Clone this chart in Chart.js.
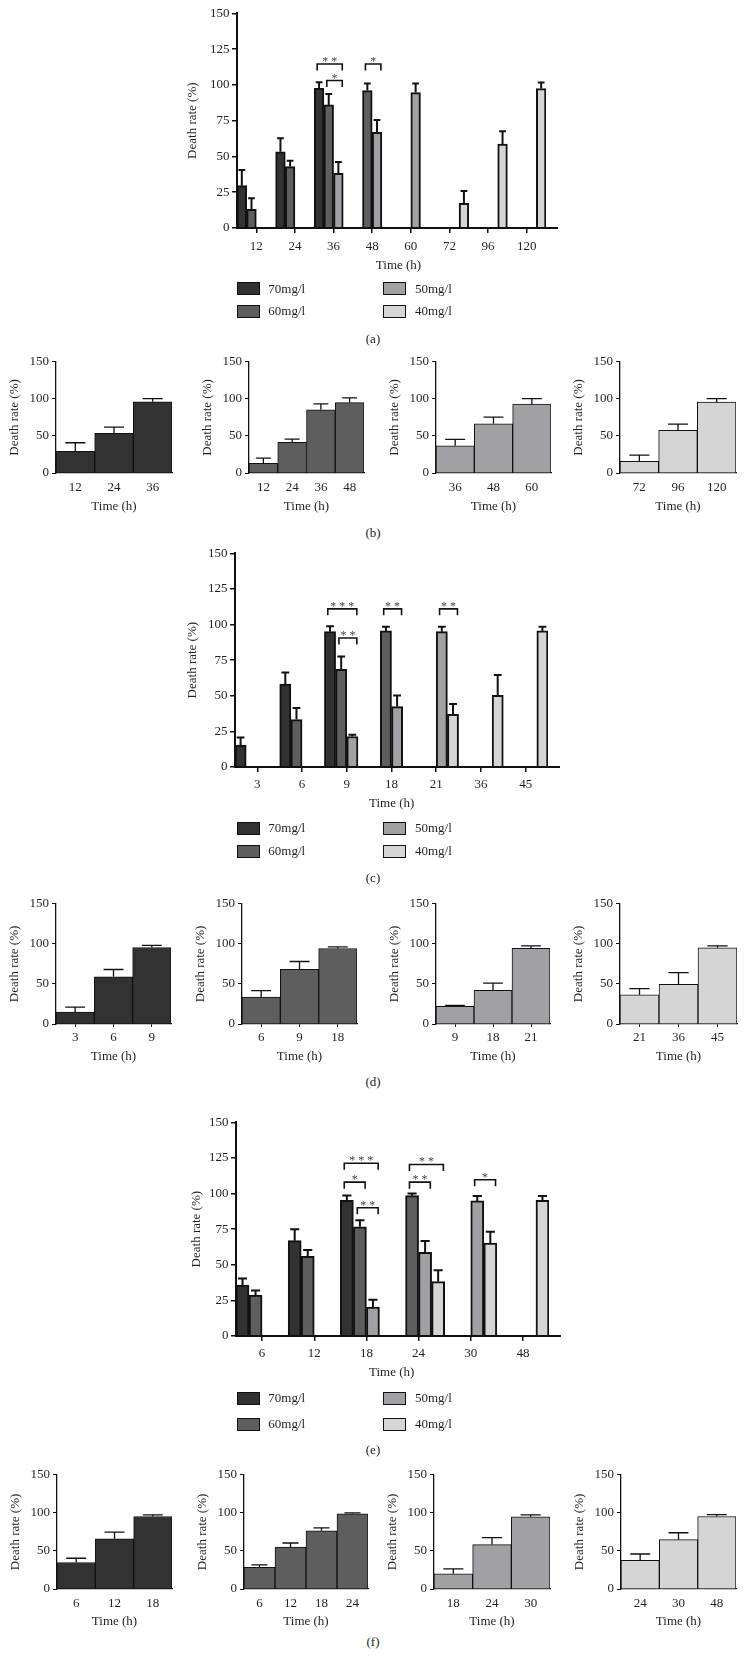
<!DOCTYPE html>
<html><head><meta charset="utf-8">
<script src="https://cdn.jsdelivr.net/npm/chart.js@4.4.0/dist/chart.umd.min.js"></script>
<style>
html,body{margin:0;padding:0;background:#fff;}
body{width:746px;height:1673px;position:relative;overflow:hidden;font-family:"Liberation Serif","Times New Roman",serif;color:#231f20;}
canvas{position:absolute;}
.t{position:absolute;font-size:13px;line-height:16px;white-space:nowrap;transform:translateY(-50%);}
.c{transform:translate(-50%,-50%);}
.box{position:absolute;box-sizing:border-box;border:1.5px solid #111;}
</style></head><body>
<script>
const seriesNames = ['70mg/l', '60mg/l', '50mg/l', '40mg/l'];

// (a)
const aTimes = ['12', '24', '36', '48', '60', '72', '96', '120'];
const a70 = [29.6, 53.3, 97.6, null, null, null, null, null];
const a60 = [13.0, 42.9, 86.0, 96.0, null, null, null, null];
const a50 = [null, null, 38.2, 66.9, 94.6, null, null, null];
const a40 = [null, null, null, null, null, 17.2, 58.7, 97.4];
const a70Err = [10.9, 9.4, 4.2, null, null, null, null, null];
const a60Err = [7.7, 4.1, 7.6, 5.0, null, null, null, null];
const a50Err = [null, null, 7.9, 8.6, 6.4, null, null, null];
const a40Err = [null, null, null, null, null, 8.7, 8.9, 4.2];
const aSig = [
  {cat: 2, from: 0, to: 2, level: 114.6, stars: '* *'},
  {cat: 2, from: 1, to: 2, level: 103.0, stars: '*'},
  {cat: 3, from: 1, to: 2, level: 114.6, stars: '*'}
];

// (b)
const b70Times = ['12', '24', '36'];       const b70 = [29.1, 53.4, 96.0];       const b70Err = [11.7, 8.5, 4.4];
const b60Times = ['12', '24', '36', '48']; const b60 = [13.0, 41.3, 85.2, 95.0]; const b60Err = [7.2, 4.4, 8.1, 6.3];
const b50Times = ['36', '48', '60'];       const b50 = [36.8, 66.4, 92.8];       const b50Err = [8.5, 8.9, 7.6];
const b40Times = ['72', '96', '120'];      const b40 = [15.7, 57.4, 95.5];       const b40Err = [8.5, 8.5, 4.9];

// (c)
const cTimes = ['3', '6', '9', '18', '21', '36', '45'];
const c70 = [15.4, 58.2, 95.0, null, null, null, null];
const c60 = [null, 33.3, 68.5, 95.5, null, null, null];
const c50 = [null, null, 21.4, 42.4, 95.0, null, null];
const c40 = [null, null, null, null, 37.0, 50.3, 95.5];
const c70Err = [5.3, 8.2, 3.8, null, null, null, null];
const c60Err = [null, 8.2, 9.1, 3.0, null, null, null];
const c50Err = [null, null, 1.2, 7.7, 3.5, null, null];
const c40Err = [null, null, null, null, 7.3, 14.2, 3.0];
const cSig = [
  {cat: 2, from: 0, to: 2, level: 111.0, stars: '* * *'},
  {cat: 2, from: 1, to: 2, level: 90.6, stars: '* *'},
  {cat: 3, from: 1, to: 2, level: 111.0, stars: '* *'},
  {cat: 4, from: 2, to: 3, level: 111.0, stars: '* *'}
];

// (d)
const d70Times = ['3', '6', '9'];    const d70 = [14.9, 59.0, 95.5]; const d70Err = [6.1, 9.0, 2.5];
const d60Times = ['6', '9', '18'];   const d60 = [33.5, 68.2, 94.2]; const d60Err = [8.2, 9.8, 2.1];
const d50Times = ['9', '18', '21'];  const d50 = [22.0, 41.9, 94.5]; const d50Err = [1.2, 9.1, 2.9];
const d40Times = ['21', '36', '45']; const d40 = [36.4, 49.6, 95.0]; const d40Err = [7.8, 14.4, 2.5];

// (e)
const eTimes = ['6', '12', '18', '24', '30', '48'];
const e70 = [35.7, 66.9, 95.2, null, null, null];
const e60 = [28.7, 55.9, 76.6, 98.5, null, null];
const e50 = [null, null, 20.3, 58.7, 94.8, null];
const e40 = [null, null, null, 38.2, 65.3, 95.2];
const e70Err = [4.6, 8.1, 3.5, null, null, null];
const e60Err = [3.2, 4.5, 4.6, 1.6, null, null];
const e50Err = [null, null, 5.1, 8.0, 3.5, null];
const e40Err = [null, null, null, 8.0, 7.9, 3.1];
const eSig = [
  {cat: 2, from: 0, to: 2, level: 121.3, stars: '* * *'},
  {cat: 2, from: 0, to: 1, level: 108.0, stars: '*'},
  {cat: 2, from: 1, to: 2, level: 90.0, stars: '* *'},
  {cat: 3, from: 1, to: 3, level: 120.4, stars: '* *'},
  {cat: 3, from: 1, to: 2, level: 108.0, stars: '* *'},
  {cat: 4, from: 2, to: 3, level: 109.7, stars: '*'}
];

// (f)
const f70Times = ['6', '12', '18'];       const f70 = [34.8, 66.0, 95.2];       const f70Err = [5.6, 8.8, 2.2];
const f60Times = ['6', '12', '18', '24']; const f60 = [28.3, 55.2, 76.5, 98.7]; const f60Err = [3.4, 5.2, 3.9, 1.3];
const f50Times = ['18', '24', '30'];      const f50 = [20.0, 58.3, 94.8];       const f50Err = [6.5, 9.1, 2.6];
const f40Times = ['24', '30', '48'];      const f40 = [37.8, 64.8, 95.2];       const f40Err = [8.2, 9.1, 2.6];

// ---------- styling ----------
const COLORS = ['#323232', '#5e5e5e', '#a1a1a5', '#d5d5d5'];
const INK = '#231f20';
Chart.defaults.font.family = '"Liberation Serif","Times New Roman",serif';
Chart.defaults.font.size = 13;
Chart.defaults.color = INK;

Chart.register({
  id: 'errbars',
  afterDatasetsDraw(chart, args, opts) {
    const ctx = chart.ctx, ys = chart.scales.y;
    chart.data.datasets.forEach((ds, i) => {
      if (!ds.errors) return;
      const meta = chart.getDatasetMeta(i);
      meta.data.forEach((el, j) => {
        const v = ds.data[j], e = ds.errors[j];
        if (v == null || e == null) return;
        const x = el.x, y0 = el.y, y1 = ys.getPixelForValue(v + e);
        const half = el.width * (opts.capFrac || 0.3);
        ctx.save();
        ctx.strokeStyle = '#111';
        ctx.lineWidth = opts.lineWidth || 1;
        ctx.beginPath();
        ctx.moveTo(x, y0); ctx.lineTo(x, y1);
        ctx.moveTo(x - half, y1); ctx.lineTo(x + half, y1);
        ctx.stroke();
        ctx.restore();
      });
    });
  }
});

Chart.register({
  id: 'sig',
  afterDatasetsDraw(chart, args, opts) {
    if (!opts.brackets) return;
    const ctx = chart.ctx, ys = chart.scales.y;
    opts.brackets.forEach(b => {
      const e1 = chart.getDatasetMeta(b.from).data[b.cat];
      const e2 = chart.getDatasetMeta(b.to).data[b.cat];
      const x1 = e1.x - e1.width * 0.2, x2 = e2.x + e2.width * 0.4;
      const y = ys.getPixelForValue(b.level);
      ctx.save();
      ctx.strokeStyle = '#111';
      ctx.lineWidth = 1.6;
      ctx.beginPath();
      ctx.moveTo(x1, y + 6.5); ctx.lineTo(x1, y); ctx.lineTo(x2, y); ctx.lineTo(x2, y + 6.5);
      ctx.stroke();
      ctx.fillStyle = '#444';
      ctx.font = '12px "Liberation Serif", serif';
      ctx.textAlign = 'center';
      ctx.textBaseline = 'alphabetic';
      ctx.fillText(b.stars, (x1 + x2) / 2, y + 1);
      ctx.restore();
    });
  }
});

Chart.register({
  id: 'xline',
  afterDatasetsDraw(chart, args, opts) {
    if (!opts.ext) return;
    const a = chart.chartArea, ctx = chart.ctx;
    ctx.save();
    ctx.strokeStyle = '#111';
    ctx.lineWidth = opts.width;
    ctx.beginPath();
    ctx.moveTo(a.left - 1, a.bottom);
    ctx.lineTo(a.right + opts.ext, a.bottom);
    ctx.stroke();
    ctx.restore();
  }
});

function makeCanvas(g) {
  const c = document.createElement('canvas');
  const w = Math.round(g.YW + (g.R - g.L) + g.PR);
  const h = Math.round(g.PT + (g.B - g.T) + g.XH);
  c.width = w; c.height = h;
  c.style.left = (g.L - g.YW) + 'px';
  c.style.top = (g.T - g.PT) + 'px';
  c.style.width = w + 'px'; c.style.height = h + 'px';
  document.body.appendChild(c);
  return c;
}

function addText(txt, x, y, centered) {
  const d = document.createElement('div');
  d.className = 't' + (centered ? ' c' : '');
  d.textContent = txt;
  d.style.left = x + 'px';
  d.style.top = y + 'px';
  document.body.appendChild(d);
}

function addLegend(row1, row2) {
  const cols = [[236.7, 268.3], [383.3, 415]];
  const order = [[0, 2], [1, 3]];
  [row1, row2].forEach((cy, r) => {
    order[r].forEach((si, c) => {
      const b = document.createElement('div');
      b.className = 'box';
      b.style.left = cols[c][0] + 'px';
      b.style.top = (cy - 6.5) + 'px';
      b.style.width = '23px'; b.style.height = '13px';
      b.style.background = COLORS[si];
      document.body.appendChild(b);
      addText(seriesNames[si], cols[c][1], cy, false);
    });
  });
}

function mainChart(g, labels, series, errs, sig, titlePad, tickPad) {
  const canvas = makeCanvas(g);
  new Chart(canvas, {
    type: 'bar',
    data: {
      labels: labels,
      datasets: series.map((d, i) => ({
        label: seriesNames[i], data: d, errors: errs[i],
        backgroundColor: COLORS[i], borderColor: '#111', borderWidth: 2,
        categoryPercentage: 1, barPercentage: 1
      }))
    },
    options: {
      responsive: false, animation: false, devicePixelRatio: 1,
      layout: {padding: {left: 0, top: g.PT, right: g.PR, bottom: 0}},
      plugins: {
        legend: {display: false}, tooltip: {enabled: false},
        errbars: {capFrac: 0.35, lineWidth: 2},
        sig: {brackets: sig},
        xline: {ext: 12, width: 2}
      },
      scales: {
        x: {
          offset: true,
          grid: {offset: false, drawOnChartArea: false, drawTicks: true, tickLength: 5, color: '#111', lineWidth: 1.5},
          border: {display: false},
          ticks: {padding: tickPad, maxRotation: 0, autoSkip: false, color: INK},
          afterFit: s => { s.height = g.XH; }
        },
        y: {
          min: 0, max: 150,
          ticks: {stepSize: 25, padding: 2.5, color: INK},
          grid: {drawOnChartArea: false, tickLength: 5, color: '#111', lineWidth: 1.5},
          border: {display: true, color: '#111', width: 2},
          title: {display: true, text: 'Death rate (%)', color: INK, padding: {top: titlePad, bottom: 0}},
          afterFit: s => { s.width = g.YW; }
        }
      }
    }
  });
}

function smallChart(g, labels, vals, errs, ci, opt) {
  const canvas = makeCanvas(g);
  new Chart(canvas, {
    type: 'bar',
    data: {
      labels: labels,
      datasets: [{
        label: seriesNames[ci], data: vals, errors: errs,
        backgroundColor: COLORS[ci], borderColor: '#111', borderWidth: 1,
        categoryPercentage: 1, barPercentage: 1
      }]
    },
    options: {
      responsive: false, animation: false, devicePixelRatio: 1,
      layout: {padding: {left: 0, top: g.PT, right: g.PR, bottom: 0}},
      plugins: {
        legend: {display: false}, tooltip: {enabled: false},
        errbars: {capFrac: 0.26, lineWidth: 1.3}
      },
      scales: {
        x: {
          offset: true,
          grid: {display: opt.xticks, offset: false, drawOnChartArea: false, drawTicks: opt.xticks, tickLength: 3, color: '#111'},
          border: {display: true, color: '#111', width: 1.3},
          ticks: {padding: opt.tickPad, maxRotation: 0, autoSkip: false, color: INK},
          title: {display: true, text: 'Time (h)', color: INK, padding: {top: 0, bottom: opt.titlePad}},
          afterFit: s => { s.height = g.XH; }
        },
        y: {
          min: 0, max: 150,
          ticks: {stepSize: 50, padding: 3, color: INK},
          grid: {drawOnChartArea: false, tickLength: 4, color: '#111'},
          border: {display: true, color: '#111', width: 1.3},
          title: {display: true, text: 'Death rate (%)', color: INK, padding: {top: 7.2, bottom: 0}},
          afterFit: s => { s.width = g.YW; }
        }
      }
    }
  });
}

// ---------- (a) ----------
mainChart({L: 237, R: 546, T: 13, B: 228, YW: 70, PT: 10, PR: 16, XH: 30},
  aTimes, [a70, a60, a50, a40], [a70Err, a60Err, a50Err, a40Err], aSig, 17.9, 5.9);
addText('Time (h)', 398.5, 265, true);
addLegend(288.7, 311.3);
addText('(a)', 373, 339, true);

// ---------- (b) ----------
const bOpt = {xticks: false, tickPad: 6.8, titlePad: 1};
const bRows = {T: 361, B: 473, YW: 56, PT: 10, PR: 6, XH: 42};
smallChart(Object.assign({L: 56, R: 172}, bRows), b70Times, b70, b70Err, 0, bOpt);
smallChart(Object.assign({L: 249, R: 364}, bRows), b60Times, b60, b60Err, 1, bOpt);
smallChart(Object.assign({L: 436, R: 551}, bRows), b50Times, b50, b50Err, 2, bOpt);
smallChart(Object.assign({L: 620, R: 736}, bRows), b40Times, b40, b40Err, 3, bOpt);
addText('(b)', 373, 533, true);

// ---------- (c) ----------
mainChart({L: 235, R: 548, T: 553, B: 767, YW: 70, PT: 10, PR: 16, XH: 30},
  cTimes, [c70, c60, c50, c40], [c70Err, c60Err, c50Err, c40Err], cSig, 19.9, 4.5);
addText('Time (h)', 391.7, 803.3, true);
addLegend(828, 851);
addText('(c)', 373, 878, true);

// ---------- (d) ----------
const dOpt = {xticks: true, tickPad: 3.2, titlePad: 1.9};
const dRows = {T: 903, B: 1024, YW: 56, PT: 10, PR: 6, XH: 42};
smallChart(Object.assign({L: 56, R: 171}, dRows), d70Times, d70, d70Err, 0, dOpt);
smallChart(Object.assign({L: 242, R: 357}, dRows), d60Times, d60, d60Err, 1, dOpt);
smallChart(Object.assign({L: 436, R: 550}, dRows), d50Times, d50, d50Err, 2, dOpt);
smallChart(Object.assign({L: 620, R: 737}, dRows), d40Times, d40, d40Err, 3, dOpt);
addText('(d)', 373, 1082, true);

// ---------- (e) ----------
mainChart({L: 236, R: 549, T: 1122, B: 1336, YW: 70, PT: 10, PR: 16, XH: 30},
  eTimes, [e70, e60, e50, e40], [e70Err, e60Err, e50Err, e40Err], eSig, 22.9, 4.5);
addText('Time (h)', 391.7, 1372.3, true);
addLegend(1398.3, 1424);
addText('(e)', 373, 1450, true);

// ---------- (f) ----------
const fOpt = {xticks: false, tickPad: 6.5, titlePad: 1.5};
const fRows = {T: 1474, B: 1589, YW: 56, PT: 10, PR: 6, XH: 42};
smallChart(Object.assign({L: 57, R: 172}, fRows), f70Times, f70, f70Err, 0, fOpt);
smallChart(Object.assign({L: 244, R: 368}, fRows), f60Times, f60, f60Err, 1, fOpt);
smallChart(Object.assign({L: 434, R: 550}, fRows), f50Times, f50, f50Err, 2, fOpt);
smallChart(Object.assign({L: 621, R: 736}, fRows), f40Times, f40, f40Err, 3, fOpt);
addText('(f)', 373, 1642, true);
</script>
</body></html>
